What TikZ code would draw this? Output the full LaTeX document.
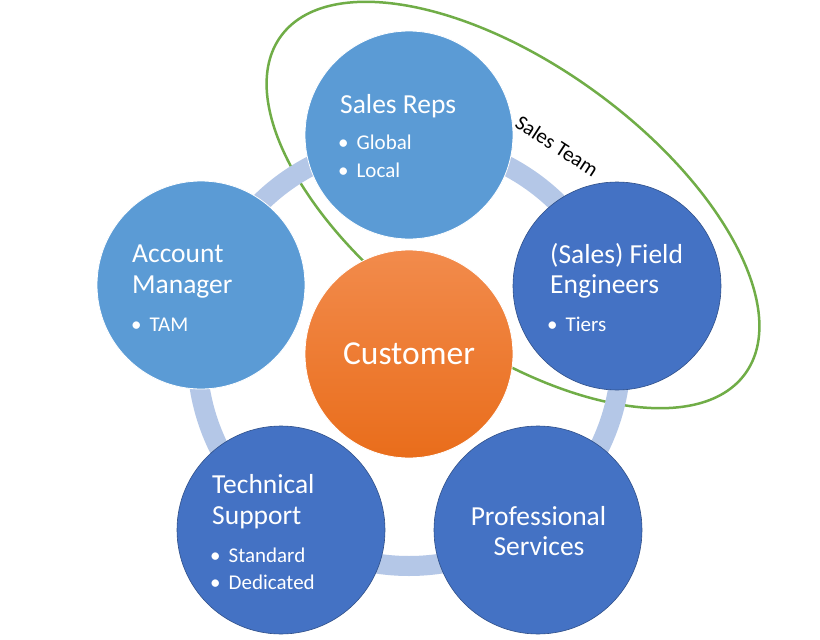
\documentclass[tikz,border=0pt]{standalone}
\usepackage{fontspec}
\setmainfont{Carlito}
\usetikzlibrary{positioning}
\definecolor{lightblue}{HTML}{5B9BD5}
\definecolor{darkblue}{HTML}{4472C4}
\definecolor{ringblue}{HTML}{B4C7E7}
\definecolor{teamgreen}{HTML}{70AD47}
\definecolor{orangetop}{HTML}{F28B4C}
\definecolor{orangebot}{HTML}{E96D1B}
\tikzset{
  role/.style={circle, minimum size=208pt, inner sep=0pt},
  rolelight/.style={role, fill=lightblue, draw=white, line width=0.8pt},
  roledark/.style={role, fill=darkblue, draw=darkblue!70!black, line width=0.6pt},
  ttl/.style={anchor=base west, inner sep=0pt, text=white, font=\fontsize{27.5}{30}\selectfont},
  itm/.style={anchor=base west, inner sep=0pt, text=white, font=\fontsize{21}{25}\selectfont},
}
\newcommand{\bul}{\textbullet\hspace{8pt}}
\begin{document}
\begin{tikzpicture}[x=1pt, y=-1pt]
  \useasboundingbox (0,0) rectangle (820,640);
  \fill[white] (0,0) rectangle (820,640);
  % Sales team outline
  \draw[teamgreen, line width=2.5pt, fill=white, rotate around={-36:(513,205)}]
    (513,205) ellipse [x radius=287, y radius=140];
  % Ring through the five roles
  \coordinate (hub) at (409,354);
  \draw[ringblue, line width=20pt] (hub) circle [radius=212];
  % Roles
  \node[rolelight] (reps) at (409,135) {};
  \node[rolelight] (acct) at (201,285) {};
  \node[roledark] (field) at (617,286) {};
  \node[roledark] (tech) at (281,530) {};
  \node[roledark] (prof) at (538,530) {};
  \node[role, top color=orangetop, bottom color=orangebot, draw=white, line width=0.8pt,
    text=white, font=\fontsize{33.5}{36}\selectfont] (cust) at (hub) {Customer};
  % Labels
  \node[ttl] (repsT) at (340,113) {Sales Reps};
  \node[itm] (repsA) at (338,149) {\bul Global};
  \node[itm] (repsB) at (338,177) {\bul Local};
  \node[ttl] (acctT) at (132,262) {Account};
  \node[ttl] (acctU) at (132,293) {Manager};
  \node[itm] (acctA) at (131,331) {\bul TAM};
  \node[ttl] (fieldT) at (550,263) {(Sales) Field};
  \node[ttl] (fieldU) at (550,293) {Engineers};
  \node[itm] (fieldA) at (547,331) {\bul Tiers};
  \node[ttl] (techT) at (212,493) {Technical};
  \node[ttl] (techU) at (212,524) {Support};
  \node[itm] (techA) at (210,562) {\bul Standard};
  \node[itm] (techB) at (210,589) {\bul Dedicated};
  \node[ttl, anchor=base] (profT) at (538.5,525) {Professional};
  \node[ttl, anchor=base] (profU) at (539,555) {Services};
  \node[rotate=-33, inner sep=0pt, font=\fontsize{21}{24}\selectfont] (team) at (557,146) {Sales Team};
\end{tikzpicture}
\end{document}
